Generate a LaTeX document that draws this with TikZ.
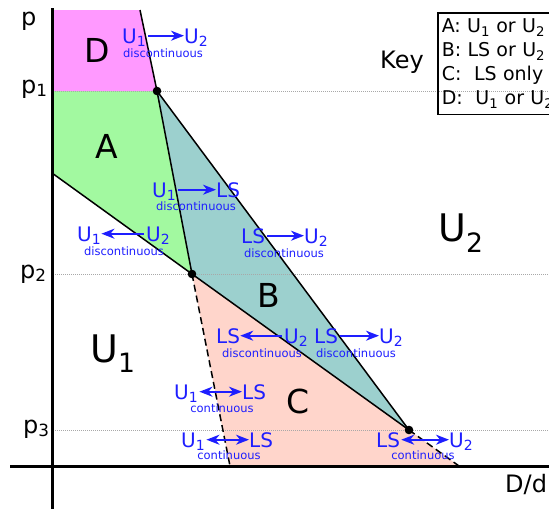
\documentclass[tikz,border=0pt]{standalone}
\usepackage{fontspec}
\setmainfont{DejaVu Sans}
\usetikzlibrary{arrows.meta,positioning}
\definecolor{phD}{HTML}{FF99FF}
\definecolor{phA}{HTML}{A2F9A0}
\definecolor{phB}{HTML}{9CD0CE}
\definecolor{phC}{HTML}{FFD5CB}
\definecolor{phBlue}{HTML}{1E1EFF}
\definecolor{phGrid}{HTML}{A8A8A8}
\tikzset{
  axisline/.style={line width=3pt, black},
  phaseline/.style={line width=1.5pt, black},
  spinline/.style={phaseline, dash pattern=on 7pt off 4pt},
  levelline/.style={phGrid, line width=1pt, dash pattern=on 1pt off 1pt},
  triple/.style={fill=black},
  axlabel/.style={font=\fontsize{24}{28}\selectfont, inner sep=0pt, anchor=base west},
  region/.style={font=\fontsize{33}{38}\selectfont, inner sep=0pt, anchor=base},
  phase/.style={font=\fontsize{38}{44}\selectfont, inner sep=0pt, anchor=base west},
  state/.style={font=\fontsize{20}{24}\selectfont, text=phBlue, inner sep=0pt,
    text height=14.6pt, text depth=0pt, anchor=base west},
  kind/.style={font=\fontsize{11.5}{13}\selectfont, text=phBlue, inner sep=0pt, anchor=base},
  jump/.style={-{Stealth[length=13pt, width=10pt, inset=4pt]}, phBlue, line width=1.6pt,
    shorten <=2pt},
  glide/.style={{Stealth[length=13pt, width=10pt, inset=4pt]}-{Stealth[length=13pt, width=10pt, inset=4pt]},
    phBlue, line width=1.6pt, shorten <=1pt},
  keybox/.style={draw, line width=1.5pt, text width=130pt, align=left,
    inner xsep=4pt, inner ysep=6pt, font=\fontsize{19}{24}\selectfont, anchor=north west}
}
\begin{document}
\begin{tikzpicture}[x=1pt, y=-1pt]
  \fill[white] (0,0) rectangle (549,509);
  \useasboundingbox (0,0) rectangle (549,509);
  % corners of the regions
  \coordinate (Dtop) at (52,10);
  \coordinate (Etop) at (140,10);
  \coordinate (P1) at (157,91);
  \coordinate (P2) at (192,274);
  \coordinate (P3) at (409,430);
  \coordinate (Pone) at (52,91);
  \coordinate (Aleft) at (52,173);
  \coordinate (Cleft) at (230,466);
  \coordinate (Cright) at (459,466);
  \fill[phD] (Dtop) -- (Etop) -- (P1) -- (Pone) -- cycle;
  \fill[phA] (Pone) -- (P1) -- (P2) -- (Aleft) -- cycle;
  \fill[phB] (P1) -- (P3) -- (P2) -- cycle;
  \fill[phC] (P2) -- (P3) -- (Cright) -- (Cleft) -- cycle;
  % p1, p2, p3
  \foreach \y [count=\i] in {91,274,430} {
    \coordinate (l\i) at (53,\y);
    \coordinate (r\i) at (549,\y);
    \draw[levelline] (l\i) -- (r\i);
  }
  \draw[phaseline] (Etop) -- (P1) -- (P2);
  \draw[phaseline] (P1) -- (P3);
  \draw[phaseline] (Aleft) -- (P2) -- (P3);
  \draw[spinline] (P2) -- (Cleft);
  \draw[spinline] (P3) -- (Cright);
  % axes
  \coordinate (ytop) at (52,8);
  \coordinate (ybot) at (52,509);
  \coordinate (xleft) at (10,466);
  \coordinate (xright) at (549,466);
  \draw[axisline] (ytop) -- (ybot);
  \draw[axisline] (xleft) -- (xright);
  \foreach \p in {P1,P2,P3} \fill[triple] (\p) circle[radius=4.3pt];

  \node[axlabel] (p) at (21,25) {p};
  \node[axlabel] (p1) at (21,93) {p\textsubscript{1}};
  \node[axlabel] (p2) at (20,278) {p\textsubscript{2}};
  \node[axlabel] (p3) at (23,433) {p\textsubscript{3}};
  \node[axlabel] (Dd) at (505,492) {D/d};
  \node[region] (rD) at (97,62) {D};
  \node[region] (rA) at (107,158) {A};
  \node[region] (rB) at (269,307) {B};
  \node[region] (rC) at (298,413) {C};
  \node[phase] (U1) at (90,362) {U\textsubscript{1}};
  \node[phase] (U2) at (438,241) {U\textsubscript{2}};

  % key
  \node[keybox] (key) at (437,12) {A: U\textsubscript{1} or U\textsubscript{2}\\
    B: LS or U\textsubscript{2}\\
    C:\ \ LS only\\
    D:\ \ U\textsubscript{1} or U\textsubscript{2}};
  \node[axlabel] (keyname) at (380,68) {Key};

  % transitions
  \node[state] (t1a) at (122,43) {U\textsubscript{1}};
  \node[state] (t1b) at (184,43) {U\textsubscript{2}};
  \draw[jump] (t1a) -- (t1b);
  \node[kind] (t1k) at (163,57) {discontinuous};

  \node[state] (t2a) at (152,197) {U\textsubscript{1}};
  \node[state] (t2b) at (216,197) {LS};
  \draw[jump] (t2a) -- (t2b);
  \node[kind] (t2k) at (196,210) {discontinuous};

  \node[state] (t3a) at (77,241) {U\textsubscript{1}};
  \node[state] (t3b) at (146,241) {U\textsubscript{2}};
  \draw[jump] (t3b) -- (t3a);
  \node[kind] (t3k) at (124,255) {discontinuous};

  \node[state] (t4a) at (241,243) {LS};
  \node[state] (t4b) at (304,243) {U\textsubscript{2}};
  \draw[jump] (t4a) -- (t4b);
  \node[kind] (t4k) at (284,257) {discontinuous};

  \node[state] (t5a) at (216,343) {LS};
  \node[state] (t5b) at (284,343) {U\textsubscript{2}};
  \draw[jump] (t5b) -- (t5a);
  \node[kind] (t5k) at (262,357) {discontinuous};

  \node[state] (t6a) at (314,343) {LS};
  \node[state] (t6b) at (379,343) {U\textsubscript{2}};
  \draw[jump] (t6a) -- (t6b);
  \node[kind] (t6k) at (356,357) {discontinuous};

  \node[state] (t7a) at (174,399) {U\textsubscript{1}};
  \node[state] (t7b) at (242,399) {LS};
  \draw[glide] (t7a) -- (t7b);
  \node[kind] (t7k) at (222,412) {continuous};

  \node[state] (t8a) at (181,447) {U\textsubscript{1}};
  \node[state] (t8b) at (249,447) {LS};
  \draw[glide] (t8a) -- (t8b);
  \node[kind] (t8k) at (229,459) {continuous};

  \node[state] (t9a) at (376,447) {LS};
  \node[state] (t9b) at (449,447) {U\textsubscript{2}};
  \draw[glide] (t9a) -- (t9b);
  \node[kind] (t9k) at (423,459) {continuous};
\end{tikzpicture}
\end{document}
